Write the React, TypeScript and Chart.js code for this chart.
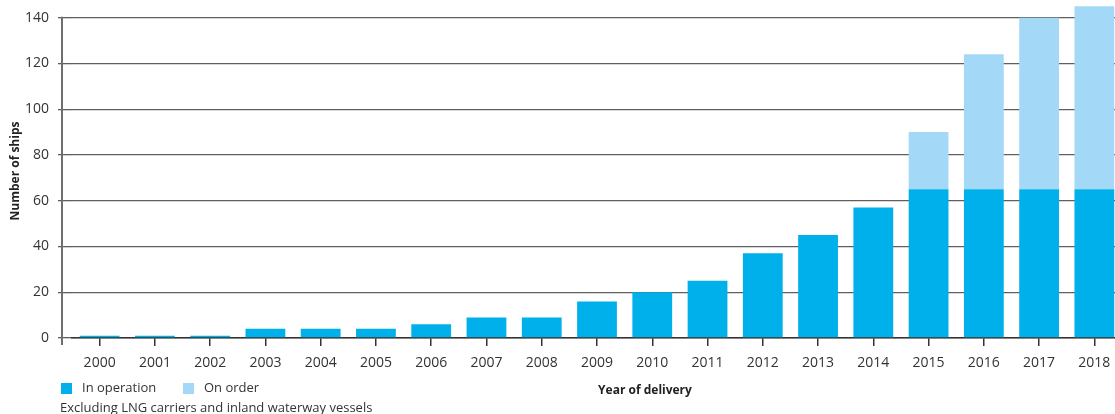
import React, { useEffect, useRef } from "react";
import { Chart, registerables } from "chart.js";

Chart.register(...registerables);

const years = [
  "2000", "2001", "2002", "2003", "2004", "2005", "2006", "2007", "2008", "2009",
  "2010", "2011", "2012", "2013", "2014", "2015", "2016", "2017", "2018",
];
const inOperation = [1, 1, 1, 4, 4, 4, 6, 9, 9, 16, 20, 25, 37, 45, 57, 65, 65, 65, 65];
const onOrder = [0, 0, 0, 0, 0, 0, 0, 0, 0, 0, 0, 0, 0, 0, 0, 25, 59, 75, 80];
const yTickValues = [0, 20, 40, 60, 80, 100, 120, 140];
const seriesLabels = ["In operation", "On order"];
const xTitle = "Year of delivery";
const yTitle = "Number of ships";
const footnote = "Excluding LNG carriers and inland waterway vessels";

const FONT = "'Open Sans', 'Noto Sans', sans-serif";
const DARK_BLUE = "rgb(0,176,234)";
const LIGHT_BLUE = "rgb(163,217,246)";
const TEXT = "#333333";

const overlayPlugin = {
  id: "overlay",
  afterDraw(chart: any) {
    const ctx = chart.ctx as CanvasRenderingContext2D;
    const ys = chart.scales.y;
    const area = chart.chartArea;
    const topVal = yTickValues[yTickValues.length - 1];
    ctx.save();
    // vertical axis line, offset left of the plot area
    const axisX = area.left - 10;
    ctx.strokeStyle = "#6e6e6e";
    ctx.lineWidth = 2;
    ctx.beginPath();
    ctx.moveTo(axisX, ys.getPixelForValue(topVal) - 1);
    ctx.lineTo(axisX, ys.getPixelForValue(0) + 7);
    ctx.stroke();

    // legend
    ctx.textBaseline = "middle";
    ctx.textAlign = "left";
    ctx.font = `13px ${FONT}`;
    ctx.fillStyle = TEXT;
    const ly = 388.5;
    const colors = [DARK_BLUE, LIGHT_BLUE];
    let lx = 61;
    seriesLabels.forEach((lab, i) => {
      ctx.fillStyle = colors[i];
      ctx.fillRect(lx, ly - 5.5, 11, 11);
      ctx.fillStyle = TEXT;
      ctx.fillText(lab, lx + 21, ly);
      lx = 183;
    });

    // footnote
    ctx.fillStyle = TEXT;
    ctx.fillText(footnote, 60, 408);

    // x axis title
    ctx.font = `bold 12px ${FONT}`;
    ctx.textAlign = "center";
    ctx.fillStyle = "#222222";
    ctx.fillText(xTitle, 645, 391);
    ctx.restore();
  },
};

export default function App() {
  const ref = useRef<HTMLCanvasElement | null>(null);

  useEffect(() => {
    if (!ref.current) return;
    const chart = new Chart(ref.current, {
      type: "bar",
      data: {
        labels: years,
        datasets: [
          {
            label: seriesLabels[0],
            data: inOperation,
            backgroundColor: DARK_BLUE,
            borderWidth: 0,
            barPercentage: 0.72,
            categoryPercentage: 1,
          },
          {
            label: seriesLabels[1],
            data: onOrder,
            backgroundColor: LIGHT_BLUE,
            borderWidth: 0,
            barPercentage: 0.72,
            categoryPercentage: 1,
          },
        ],
      },
      options: {
        animation: false,
        responsive: true,
        maintainAspectRatio: false,
        layout: { padding: { top: 4, left: 0, right: 0, bottom: 0 } },
        plugins: {
          legend: { display: false },
          tooltip: { enabled: false },
          title: { display: false },
        },
        scales: {
          x: {
            stacked: true,
            offset: true,
            grid: {
              offset: false,
              drawOnChartArea: false,
              drawTicks: true,
              tickLength: 8,
              color: "#333333",
              lineWidth: 1.5,
            },
            border: { display: true, color: "#333333", width: 1.5 },
            ticks: {
              color: TEXT,
              font: { family: FONT, size: 14 },
              padding: 9,
              maxRotation: 0,
              autoSkip: false,
            },
            afterFit: (s: any) => {
              s.height = 76;
              s.paddingLeft = 0;
              s.paddingRight = 0;
            },
          },
          y: {
            stacked: true,
            min: 0,
            max: 146,
            afterBuildTicks: (s: any) => {
              s.ticks = yTickValues.map((v) => ({ value: v }));
            },
            grid: {
              color: "#5f5f5f",
              lineWidth: 1.3,
              drawTicks: true,
              tickLength: 14,
            },
            border: { display: false },
            ticks: {
              color: TEXT,
              font: { family: FONT, size: 14 },
              padding: 9,
            },
            title: {
              display: true,
              text: yTitle,
              color: "#222222",
              font: { family: FONT, size: 12, weight: "bold" },
              padding: { top: 8, bottom: 3 },
            },
            afterFit: (s: any) => {
              s.width = 72;
              s.paddingTop = 0;
              s.paddingBottom = 0;
            },
          },
        },
      },
      plugins: [overlayPlugin],
    });
    return () => chart.destroy();
  }, []);

  return (
    <div
      style={{
        position: "fixed",
        left: 0,
        top: 0,
        width: 1115,
        height: 414,
        overflow: "hidden",
        background: "#ffffff",
      }}
    >
      <div style={{ position: "relative", width: 1122, height: 414 }}>
        <canvas ref={ref} />
      </div>
    </div>
  );
}
